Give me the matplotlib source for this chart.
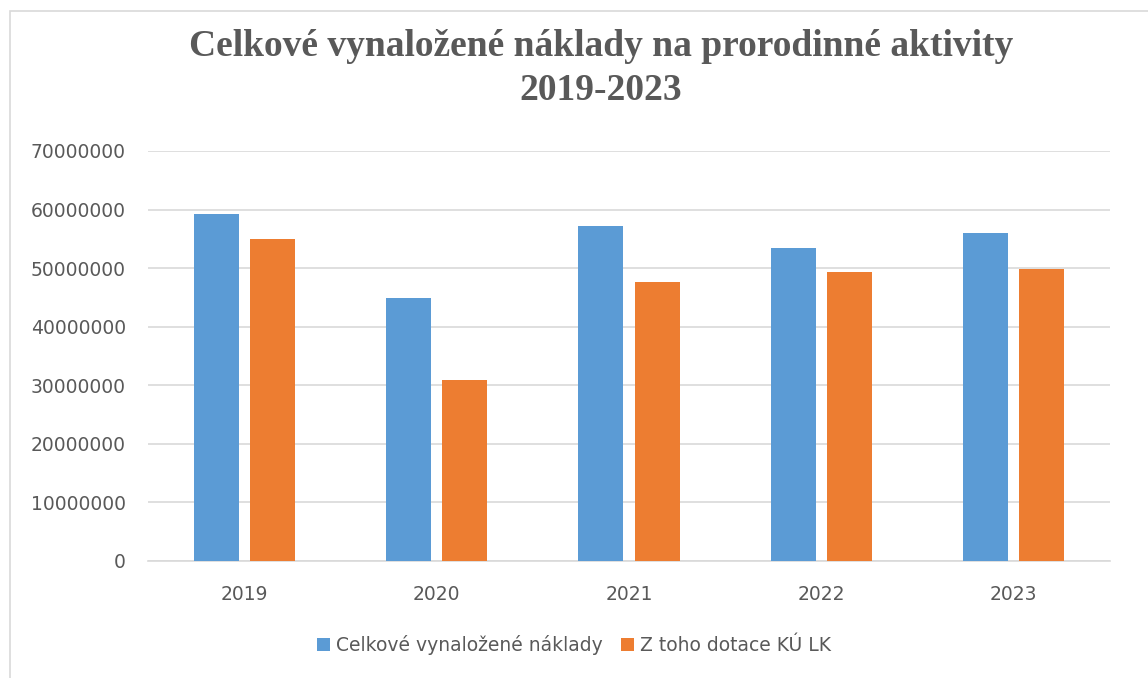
import matplotlib
matplotlib.use("Agg")
import matplotlib.pyplot as plt
import numpy as np
from matplotlib.patches import Rectangle

years = ["2019", "2020", "2021", "2022", "2023"]
total_costs = [59200000, 44900000, 57200000, 53400000, 56000000]
subsidy = [55000000, 30900000, 47700000, 49400000, 49800000]
series_names = ["Celkové vynaložené náklady", "Z toho dotace KÚ LK"]
yticks = [0, 10000000, 20000000, 30000000, 40000000, 50000000, 60000000, 70000000]

blue = "#5B9BD5"
orange = "#ED7D31"
gray_text = "#595959"

fig = plt.figure(figsize=(11.48, 6.78), dpi=100)
W, H = 1148, 678
ax = fig.add_axes([148 / W, 1 - 561 / H, (1110 - 148) / W, (561 - 151) / H])

x = np.arange(len(years))
bw = 0.234
off = 0.146
ax.bar(x - off, total_costs, bw, color=blue, label=series_names[0], zorder=3)
ax.bar(x + off, subsidy, bw, color=orange, label=series_names[1], zorder=3)

ax.set_xlim(-0.5, len(years) - 0.5)
ax.set_ylim(0, 70000000)
ax.set_yticks(yticks)
ax.set_yticklabels([str(v) for v in yticks])
ax.set_xticks(x)
ax.set_xticklabels(years)
ax.yaxis.grid(True, color="#D9D9D9", linewidth=1.2, zorder=0)
ax.set_axisbelow(True)
for s in ["top", "right", "left"]:
    ax.spines[s].set_visible(False)
ax.spines["bottom"].set_color("#D9D9D9")
ax.spines["bottom"].set_linewidth(1.2)
ax.tick_params(axis="both", length=0, labelsize=13.5, colors=gray_text)
ax.tick_params(axis="y", pad=16)
ax.tick_params(axis="x", pad=17)

tx = 601 / W
fig.text(tx, 1 - 46 / H, "Celkové vynaložené náklady na prorodinné aktivity",
         ha="center", va="center", fontsize=27, fontweight="bold",
         family="Liberation Serif", color=gray_text)
fig.text(tx, 1 - 90 / H, "2019-2023",
         ha="center", va="center", fontsize=27, fontweight="bold",
         family="Liberation Serif", color=gray_text)

leg = fig.legend(loc="center", bbox_to_anchor=(0.5, 1 - 645 / H), ncol=2,
                 frameon=False, fontsize=13.5, handlelength=0.7, handleheight=0.7,
                 handletextpad=0.3, columnspacing=1.0)
for t in leg.get_texts():
    t.set_color(gray_text)

fig.patches.append(Rectangle((10 / W, -0.01), 1.05, 1 - 11 / H + 0.01,
                             transform=fig.transFigure, fill=False,
                             edgecolor="#D9D9D9", linewidth=1.2))

fig.savefig("out.png", dpi=100, facecolor="white")
